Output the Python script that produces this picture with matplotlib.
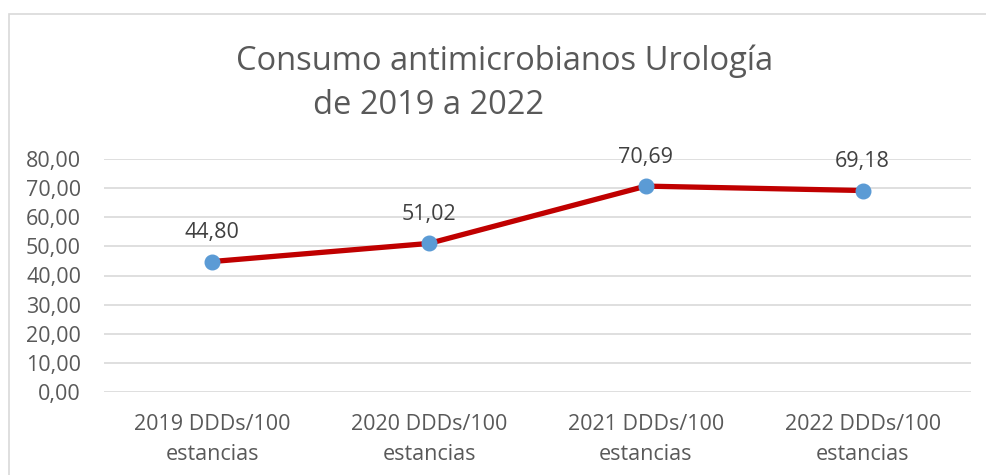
import matplotlib
matplotlib.use("Agg")
import matplotlib.pyplot as plt
from matplotlib.patches import Rectangle

categories = ["2019 DDDs/100\nestancias", "2020 DDDs/100\nestancias",
              "2021 DDDs/100\nestancias", "2022 DDDs/100\nestancias"]
values = [44.80, 51.02, 70.69, 69.18]
yticks = [0, 10, 20, 30, 40, 50, 60, 70, 80]

plt.rcParams['font.family'] = ['Open Sans', 'DejaVu Sans']
W, H = 986, 475
fig = plt.figure(figsize=(W/100, H/100), dpi=100)
fig.patch.set_facecolor('white')

# outer chart border
fig.patches.append(Rectangle((9/W, -0.05), (W+20)/W, (H-14)/H + 0.05, transform=fig.transFigure,
                             fill=False, edgecolor='#D9D9D9', linewidth=1.2))

ax = fig.add_axes([104/W, 1-392/H, (971-104)/W, (392-159)/H])
x = list(range(len(values)))
ax.plot(x, values, color='#C00000', linewidth=3.8, zorder=3, solid_capstyle='round')
ax.plot(x, values, linestyle='none', marker='o', markersize=10.5,
        markerfacecolor='#5B9BD5', markeredgecolor='#5B9BD5', zorder=4)
for xi, v in zip(x, values):
    ax.annotate(f"{v:.2f}".replace('.', ','), (xi, v), xytext=(0, 13), textcoords='offset points',
                ha='center', va='bottom', fontsize=15.5, color='#404040')

ax.set_xlim(-0.5, 3.5)
ax.set_ylim(0, 80)
ax.set_yticks(yticks)
ax.set_yticklabels([f"{t:.2f}".replace('.', ',') for t in yticks], fontsize=15.5, color='#595959')
ax.set_xticks(x)
ax.set_xticklabels(categories, fontsize=15.5, color='#595959', linespacing=1.55)
ax.tick_params(axis='both', length=0)
ax.tick_params(axis='y', pad=16.5)
ax.tick_params(axis='x', pad=16)
ax.grid(axis='y', color='#D9D9D9', linewidth=1.2)
ax.set_axisbelow(True)
for s in ax.spines.values():
    s.set_visible(False)

fig.text(505/W, 1-61/H, "Consumo antimicrobianos Urología", ha='center', va='center',
         fontsize=23.5, color='#595959')
fig.text(313/W, 1-105/H, "de 2019 a 2022", ha='left', va='center',
         fontsize=23.5, color='#595959')

fig.savefig("out.png", dpi=100)
